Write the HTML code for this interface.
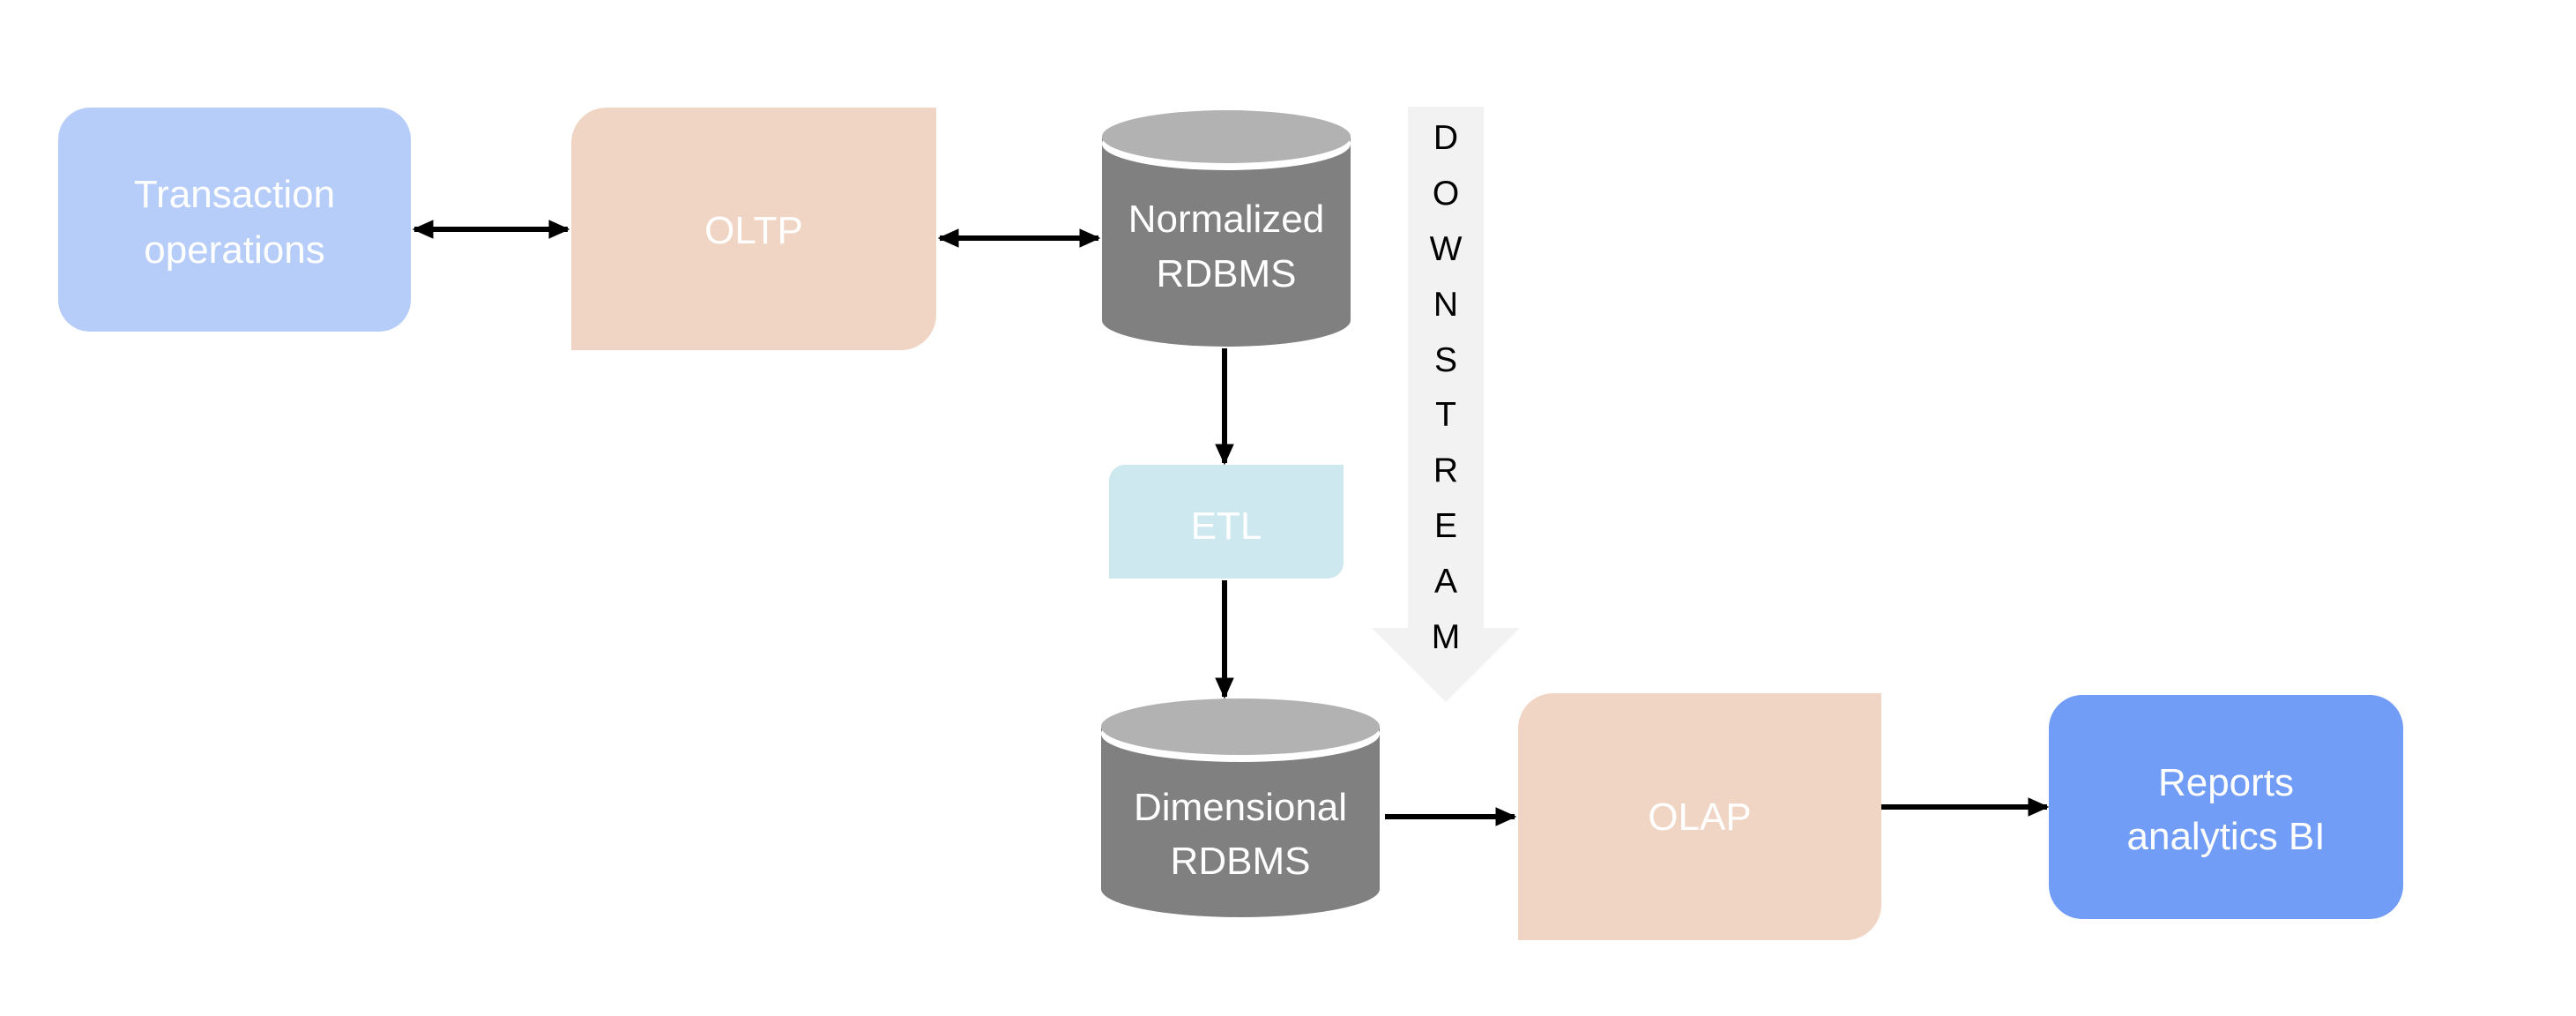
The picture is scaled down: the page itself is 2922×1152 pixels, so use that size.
<!DOCTYPE html>
<html><head><meta charset="utf-8"><style>
html,body{margin:0;padding:0;background:#fff}
svg{display:block}
text{font-family:"Liberation Sans",sans-serif}
</style></head><body>
<svg width="2922" height="1152" viewBox="0 0 2922 1152" xmlns="http://www.w3.org/2000/svg">
<defs>
<marker id="ah" markerWidth="4" markerHeight="4" refX="3.6" refY="2" orient="auto-start-reverse" markerUnits="strokeWidth">
<path d="M0,0.2 L4,2 L0,3.8 Z" fill="#000"/>
</marker>
</defs>
<rect width="2922" height="1152" fill="#fff"/>

<path d="M1597,121 H1683 V712 H1724 L1640,796 L1556,712 H1597 Z" fill="#F2F2F2"/>
<g font-size="39" fill="#000" text-anchor="middle">
<text x="1640" y="169">D</text>
<text x="1640" y="232">O</text>
<text x="1640" y="295">W</text>
<text x="1640" y="358">N</text>
<text x="1640" y="421">S</text>
<text x="1640" y="483">T</text>
<text x="1640" y="546">R</text>
<text x="1640" y="609">E</text>
<text x="1640" y="672">A</text>
<text x="1640" y="735">M</text>
</g>

<rect x="66" y="122" width="400" height="254" rx="36" fill="#B6CDF9"/>
<g font-size="44" fill="#fff" text-anchor="middle">
<text x="266" y="235">Transaction</text>
<text x="266" y="298">operations</text>
</g>

<path d="M688,122 H1062 V357 A40,40 0 0 1 1022,397 H648 V162 A40,40 0 0 1 688,122 Z" fill="#F1D5C4"/>
<text x="855" y="276" font-size="44" fill="#fff" text-anchor="middle">OLTP</text>

<rect x="1250" y="155" width="282" height="208" fill="#808080"/>
<ellipse cx="1391" cy="363" rx="141" ry="30" fill="#808080"/>
<ellipse cx="1391" cy="163" rx="141" ry="30" fill="#fff"/>
<ellipse cx="1391" cy="155" rx="141" ry="30" fill="#B2B2B2"/>
<g font-size="44" fill="#fff" text-anchor="middle">
<text x="1391" y="263">Normalized</text>
<text x="1391" y="325">RDBMS</text>
</g>

<path d="M1276,527 H1524 V638 A18,18 0 0 1 1506,656 H1258 V545 A18,18 0 0 1 1276,527 Z" fill="#CDE9EF"/>
<text x="1391" y="611" font-size="44" fill="#fff" text-anchor="middle">ETL</text>

<rect x="1249" y="824" width="316" height="184" fill="#808080"/>
<ellipse cx="1407" cy="1008" rx="158" ry="32" fill="#808080"/>
<ellipse cx="1407" cy="832" rx="158" ry="32" fill="#fff"/>
<ellipse cx="1407" cy="824" rx="158" ry="32" fill="#B2B2B2"/>
<g font-size="44" fill="#fff" text-anchor="middle">
<text x="1407" y="930">Dimensional</text>
<text x="1407" y="991">RDBMS</text>
</g>

<path d="M1762,786 H2134 V1026 A40,40 0 0 1 2094,1066 H1722 V826 A40,40 0 0 1 1762,786 Z" fill="#F1D5C4"/>
<text x="1928" y="941" font-size="44" fill="#fff" text-anchor="middle">OLAP</text>

<rect x="2324" y="788" width="402" height="254" rx="38" fill="#729DF7"/>
<g font-size="44" fill="#fff" text-anchor="middle">
<text x="2525" y="902">Reports</text>
<text x="2525" y="963">analytics BI</text>
</g>

<g stroke="#000" stroke-width="6" fill="none">
<line x1="470" y1="260" x2="644" y2="260" marker-start="url(#ah)" marker-end="url(#ah)"/>
<line x1="1066" y1="270" x2="1246" y2="270" marker-start="url(#ah)" marker-end="url(#ah)"/>
<line x1="1389" y1="395" x2="1389" y2="525" marker-end="url(#ah)"/>
<line x1="1389" y1="658" x2="1389" y2="790" marker-end="url(#ah)"/>
<line x1="1571" y1="926" x2="1718" y2="926" marker-end="url(#ah)"/>
<line x1="2134" y1="915" x2="2322" y2="915" marker-end="url(#ah)"/>
</g>
</svg>
</body></html>
